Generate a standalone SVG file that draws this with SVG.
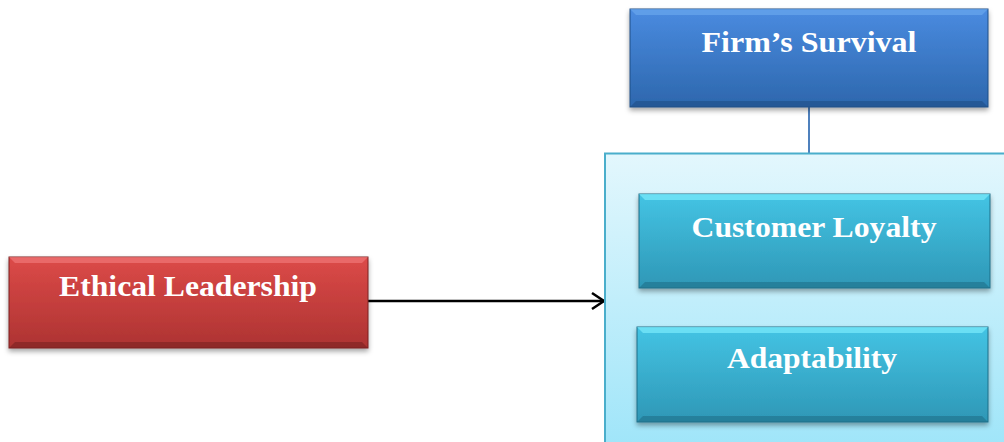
<svg xmlns="http://www.w3.org/2000/svg" width="1004" height="442" viewBox="0 0 1004 442">
<style>
.lbl{font-family:"Liberation Serif","Times New Roman",serif;font-weight:bold;font-size:30px;fill:#ffffff;text-anchor:middle}
.conn{stroke:#000;stroke-width:2.5;fill:none}
</style>
<defs>
<linearGradient id="gBlue" x1="0" y1="0" x2="0" y2="1"><stop offset="0" stop-color="#4a8be0"/><stop offset="1" stop-color="#2d67ad"/></linearGradient>
<linearGradient id="gRed" x1="0" y1="0" x2="0" y2="1"><stop offset="0" stop-color="#dc4a48"/><stop offset="1" stop-color="#ad3332"/></linearGradient>
<linearGradient id="gTeal" x1="0" y1="0" x2="0" y2="1"><stop offset="0" stop-color="#44c4e4"/><stop offset="1" stop-color="#2e97b6"/></linearGradient>
<linearGradient id="gCont" x1="0" y1="0" x2="0" y2="1"><stop offset="0" stop-color="#e3f7fd"/><stop offset="1" stop-color="#9fe5f9"/></linearGradient>
<filter id="sh" x="-10%" y="-10%" width="120%" height="130%"><feDropShadow dx="0" dy="3" stdDeviation="2.5" flood-color="#000" flood-opacity="0.35"/></filter>
<marker id="arr" markerWidth="18" markerHeight="20" refX="15" refY="10" orient="auto" markerUnits="userSpaceOnUse"><path d="M3,2 L15,10 L3,18" fill="none" stroke="#000" stroke-width="2.5"/></marker>
</defs>
<rect width="1004" height="442" fill="#ffffff"/>
<g id="connectors">
<line x1="809" y1="107" x2="809" y2="154" stroke="#4f81bd" stroke-width="2"/>
<line class="conn" x1="368" y1="301" x2="604" y2="301" marker-end="url(#arr)"/>
</g>
<g id="container">
<rect x="605" y="153.5" width="404" height="295" fill="url(#gCont)" stroke="#4aaecb" stroke-width="2"/>
</g>
<g id="firms-survival">
<rect x="630" y="9" width="358" height="98" fill="url(#gBlue)" stroke="#1f4f86" stroke-width="1" filter="url(#sh)"/>
<polygon points="630,9 988,9 982,15 636,15" fill="#6aa6ec" opacity="0.7"/>
<polygon points="630,107 988,107 982,101 636,101" fill="#1f4f86" opacity="0.6"/>
<text class="lbl" x="809" y="52" textLength="215" lengthAdjust="spacingAndGlyphs">Firm’s Survival</text>
</g>
<g id="ethical-leadership">
<rect x="9" y="257" width="359" height="91" fill="url(#gRed)" stroke="#7a2222" stroke-width="1" filter="url(#sh)"/>
<polygon points="9,257 368,257 362,263 15,263" fill="#f07878" opacity="0.7"/>
<polygon points="9,348 368,348 362,342 15,342" fill="#7a2222" opacity="0.6"/>
<text class="lbl" x="188" y="296" textLength="258" lengthAdjust="spacingAndGlyphs">Ethical Leadership</text>
</g>
<g id="customer-loyalty">
<rect x="639" y="194" width="351" height="94" fill="url(#gTeal)" stroke="#1f6f88" stroke-width="1" filter="url(#sh)"/>
<polygon points="639,194 990,194 984,200 645,200" fill="#78e8fa" opacity="0.75"/>
<polygon points="639,288 990,288 984,282 645,282" fill="#1f6f88" opacity="0.6"/>
<text class="lbl" x="814" y="237" textLength="245" lengthAdjust="spacingAndGlyphs">Customer Loyalty</text>
</g>
<g id="adaptability">
<rect x="637" y="327" width="351" height="95" fill="url(#gTeal)" stroke="#1f6f88" stroke-width="1" filter="url(#sh)"/>
<polygon points="637,327 988,327 982,333 643,333" fill="#78e8fa" opacity="0.75"/>
<polygon points="637,422 988,422 982,416 643,416" fill="#1f6f88" opacity="0.6"/>
<text class="lbl" x="812" y="368" textLength="170" lengthAdjust="spacingAndGlyphs">Adaptability</text>
</g>
</svg>
